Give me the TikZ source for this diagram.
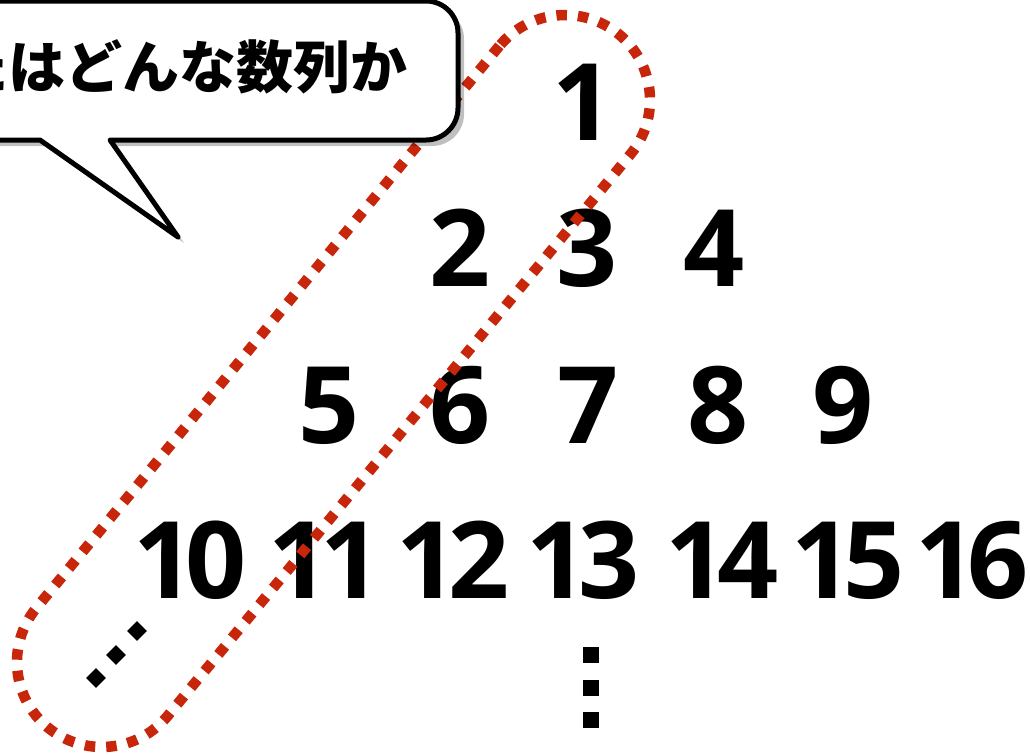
\documentclass[tikz,border=0pt]{standalone}
\usepackage{fontspec}
\newfontfamily\jpfont{Noto Sans CJK JP}
\newfontfamily\numfont{Open Sans}
\usetikzlibrary{shadows}
\definecolor{loopred}{RGB}{200,38,10}
\newcommand{\twod}[2]{#1\kern-10pt#2}
\begin{document}
\begin{tikzpicture}[x=1pt,y=-1pt,
  num/.style={font=\numfont\bfseries\fontsize{107}{107}\selectfont, inner sep=0pt, anchor=base},
  jp/.style={font=\jpfont\bfseries\fontsize{57}{57}\selectfont, inner sep=0pt},
  bubble/.style={draw=black, line width=5pt, fill=white, line join=round,
    drop shadow={shadow xshift=6pt, shadow yshift=-6pt, opacity=0.25, fill=black}},
  redloop/.style={draw=loopred, line width=10.5pt, dash pattern=on 10.5pt off 11pt},
  vdot/.style={rectangle, fill=black, minimum size=16pt, inner sep=0pt},
  ddot/.style={rectangle, fill=black, minimum size=14pt, inner sep=0pt, rotate=45}]
\useasboundingbox (0,0) rectangle (1030,755);
\clip (0,0) rectangle (1030,755);
\fill[white] (0,0) rectangle (1030,755);

% numbers
\node[num] (n1) at (583,140) {1};
\node[num] (n2) at (460,286) {2};
\node[num] (n3) at (587,286) {3};
\node[num] (n4) at (714,286) {4};
\node[num] (n5) at (329,443) {5};
\node[num] (n6) at (460,443) {6};
\node[num] (n7) at (588,443) {7};
\node[num] (n8) at (718,443) {8};
\node[num] (n9) at (843,443) {9};
\node[num] (n10) at (190,598) {\twod10};
\node[num] (n11) at (325,598) {\twod11};
\node[num] (n12) at (453,598) {\twod12};
\node[num] (n13) at (583,598) {\twod13};
\node[num] (n14) at (722,598) {\twod14};
\node[num] (n15) at (848,598) {\twod15};
\node[num] (n16) at (972,598) {\twod16};

% vertical dots
\node[vdot] (v1) at (591,655) {};
\node[vdot] (v2) at (591,688) {};
\node[vdot] (v3) at (591,720) {};
% diagonal dots
\node[ddot] (d1) at (96,678) {};
\node[ddot] (d2) at (116,655) {};
\node[ddot] (d3) at (137,631) {};

% red dotted loop
\draw[redloop] (499.4,45.9) -- (36.4,607.9)
  arc[start angle=219.5, end angle=39.5, radius=85]
  -- (630.6,154.1)
  arc[start angle=39.5, end angle=-140.5, radius=85] -- cycle;

% speech bubble
\draw[bubble] (40,140) -- (178,237) -- (110,140) -- (426,140)
  arc[start angle=90, end angle=0, radius=32] -- (458,33)
  arc[start angle=0, end angle=-90, radius=32] -- (-60,1) -- (-60,140) -- cycle;
\node[jp, anchor=east] (q) at (408,67) {たはどんな数列か};
\end{tikzpicture}
\end{document}
